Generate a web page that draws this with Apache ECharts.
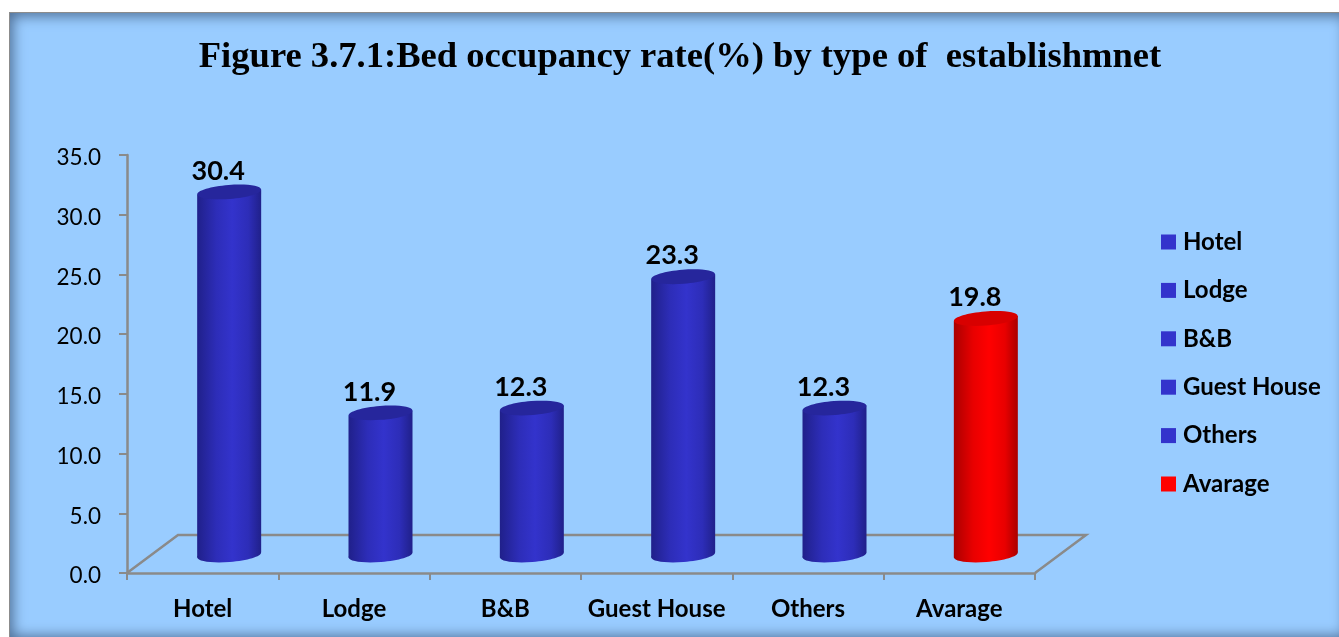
<!DOCTYPE html>
<html>
<head>
<meta charset="utf-8">
<style>
html,body{margin:0;padding:0;background:#fff;overflow:hidden;width:1339px;height:637px}
#frame{position:absolute;left:9px;top:12px;width:1340px;height:628px;background:#99CCFF;border:1.5px solid #8c8c8c;box-sizing:border-box;box-shadow:inset 0 0 13px 3px #4f6f96}
#chart{position:absolute;left:0;top:0;width:1339px;height:637px}
</style>
</head>
<body>
<div id="frame"></div>
<div id="chart"></div>
<script src="https://cdn.jsdelivr.net/npm/echarts@6/dist/echarts.min.js"></script>
<script>
const titleText = 'Figure 3.7.1:Bed occupancy rate(%) by type of  establishmnet';
const categories = ['Hotel', 'Lodge', 'B&B', 'Guest House', 'Others', 'Avarage'];
const values = [30.4, 11.9, 12.3, 23.3, 12.3, 19.8];
const barColors = ['#3333CC', '#3333CC', '#3333CC', '#3333CC', '#3333CC', '#FF0000'];
const midColors = ['#2D2DB8', '#2D2DB8', '#2D2DB8', '#2D2DB8', '#2D2DB8', '#E80000'];
const edgeColors = ['#20208A', '#20208A', '#20208A', '#20208A', '#20208A', '#AA0000'];
const capColors = ['#26269C', '#26269C', '#26269C', '#26269C', '#26269C', '#D80000'];
const yTicks = { min: 0, max: 35, interval: 5 };

const DEPTH_X = 51, DEPTH_Y = 38, BAR_W = 64;
const axisGray = '#8A8A8A';
const chart = echarts.init(document.getElementById('chart'), null, { renderer: 'canvas' });

function renderFloor(params, api) {
  const cs = params.coordSys;
  const y = cs.y + cs.height;
  const l = cs.x, r = cs.x + cs.width;
  return {
    type: 'polyline',
    shape: { points: [[l, y], [l + DEPTH_X, y - DEPTH_Y], [r + DEPTH_X, y - DEPTH_Y], [r, y]] },
    style: { stroke: axisGray, lineWidth: 2.5, fill: null }
  };
}

function renderCylinder(i) {
  return function (params, api) {
    const value = api.value(1);
    const base = api.coord([api.value(0), 0]);
    const top = api.coord([api.value(0), value]);
    const cx = base[0] + DEPTH_X / 2 + 1;
    const by = base[1] - 18;
    const ty = top[1] - 18;
    const rx = BAR_W / 2, ry = 7, tilt = 2.5;
    const grad = new echarts.graphic.LinearGradient(0, 0, 1, 0, [
      { offset: 0, color: edgeColors[i] },
      { offset: 0.3, color: midColors[i] },
      { offset: 0.55, color: barColors[i] },
      { offset: 0.8, color: midColors[i] },
      { offset: 1, color: edgeColors[i] }
    ]);
    const rot = Math.atan2(tilt * 2, BAR_W);
    return {
      type: 'group',
      children: [
        { type: 'ellipse', x: cx, y: by, rotation: rot,
          shape: { cx: 0, cy: 0, rx: rx, ry: ry }, style: { fill: grad } },
        { type: 'polygon',
          shape: { points: [[cx - rx, ty + tilt], [cx + rx, ty - tilt], [cx + rx, by - tilt], [cx - rx, by + tilt]] },
          style: { fill: grad } },
        { type: 'ellipse', x: cx, y: ty, rotation: rot,
          shape: { cx: 0, cy: 0, rx: rx, ry: ry }, style: { fill: capColors[i] } },
        { type: 'text',
          style: { text: value.toFixed(1), x: cx - 11, y: ty - 21, align: 'center', verticalAlign: 'middle',
            font: 'bold 27px Lato', fill: '#000' } }
      ]
    };
  };
}

const barSeries = categories.map((name, i) => ({
  name: name,
  type: 'custom',
  coordinateSystem: 'cartesian2d',
  z: 3,
  silent: true,
  itemStyle: { color: barColors[i] },
  encode: { x: 0, y: 1 },
  data: [[name, values[i]]],
  renderItem: renderCylinder(i)
}));

chart.setOption({
  animation: false,
  backgroundColor: 'transparent',
  title: {
    text: titleText, left: 675, top: 34, textAlign: 'center',
    textStyle: { fontFamily: 'Liberation Serif', fontWeight: 'bold', fontSize: 36.6, color: '#000' }
  },
  legend: {
    orient: 'vertical', left: 1161, top: 228.5, padding: 0,
    icon: 'rect', itemWidth: 15, itemHeight: 15, itemGap: 21.4,
    data: categories,
    textStyle: { fontFamily: 'Lato', fontWeight: 'bold', fontSize: 24, color: '#000', padding: [0, 0, 0, 2], lineHeight: 27 }
  },
  grid: { left: 127, right: 304, top: 155, bottom: 64, containLabel: false },
  xAxis: {
    type: 'category', data: categories, boundaryGap: true,
    axisLine: { lineStyle: { color: axisGray, width: 2.5 } },
    axisTick: { show: true, alignWithLabel: false, length: 7, lineStyle: { color: axisGray, width: 2 } },
    axisLabel: { interval: 0, margin: 24, fontFamily: 'Lato', fontWeight: 'bold', fontSize: 24, color: '#000' }
  },
  yAxis: {
    type: 'value', min: yTicks.min, max: yTicks.max, interval: yTicks.interval,
    axisLine: { show: true, lineStyle: { color: axisGray, width: 2.5 } },
    axisTick: { show: true, length: 8, lineStyle: { color: axisGray, width: 2 } },
    splitLine: { show: false },
    axisLabel: { margin: 26, verticalAlign: 'top', lineHeight: 6, fontFamily: 'Lato', fontSize: 22.5, color: '#000', formatter: v => v.toFixed(1) }
  },
  series: [{
    name: 'floor', type: 'custom', coordinateSystem: 'cartesian2d', z: 1, silent: true,
    data: [[categories[0], 0]], renderItem: renderFloor
  }].concat(barSeries)
});
</script>
</body>
</html>
